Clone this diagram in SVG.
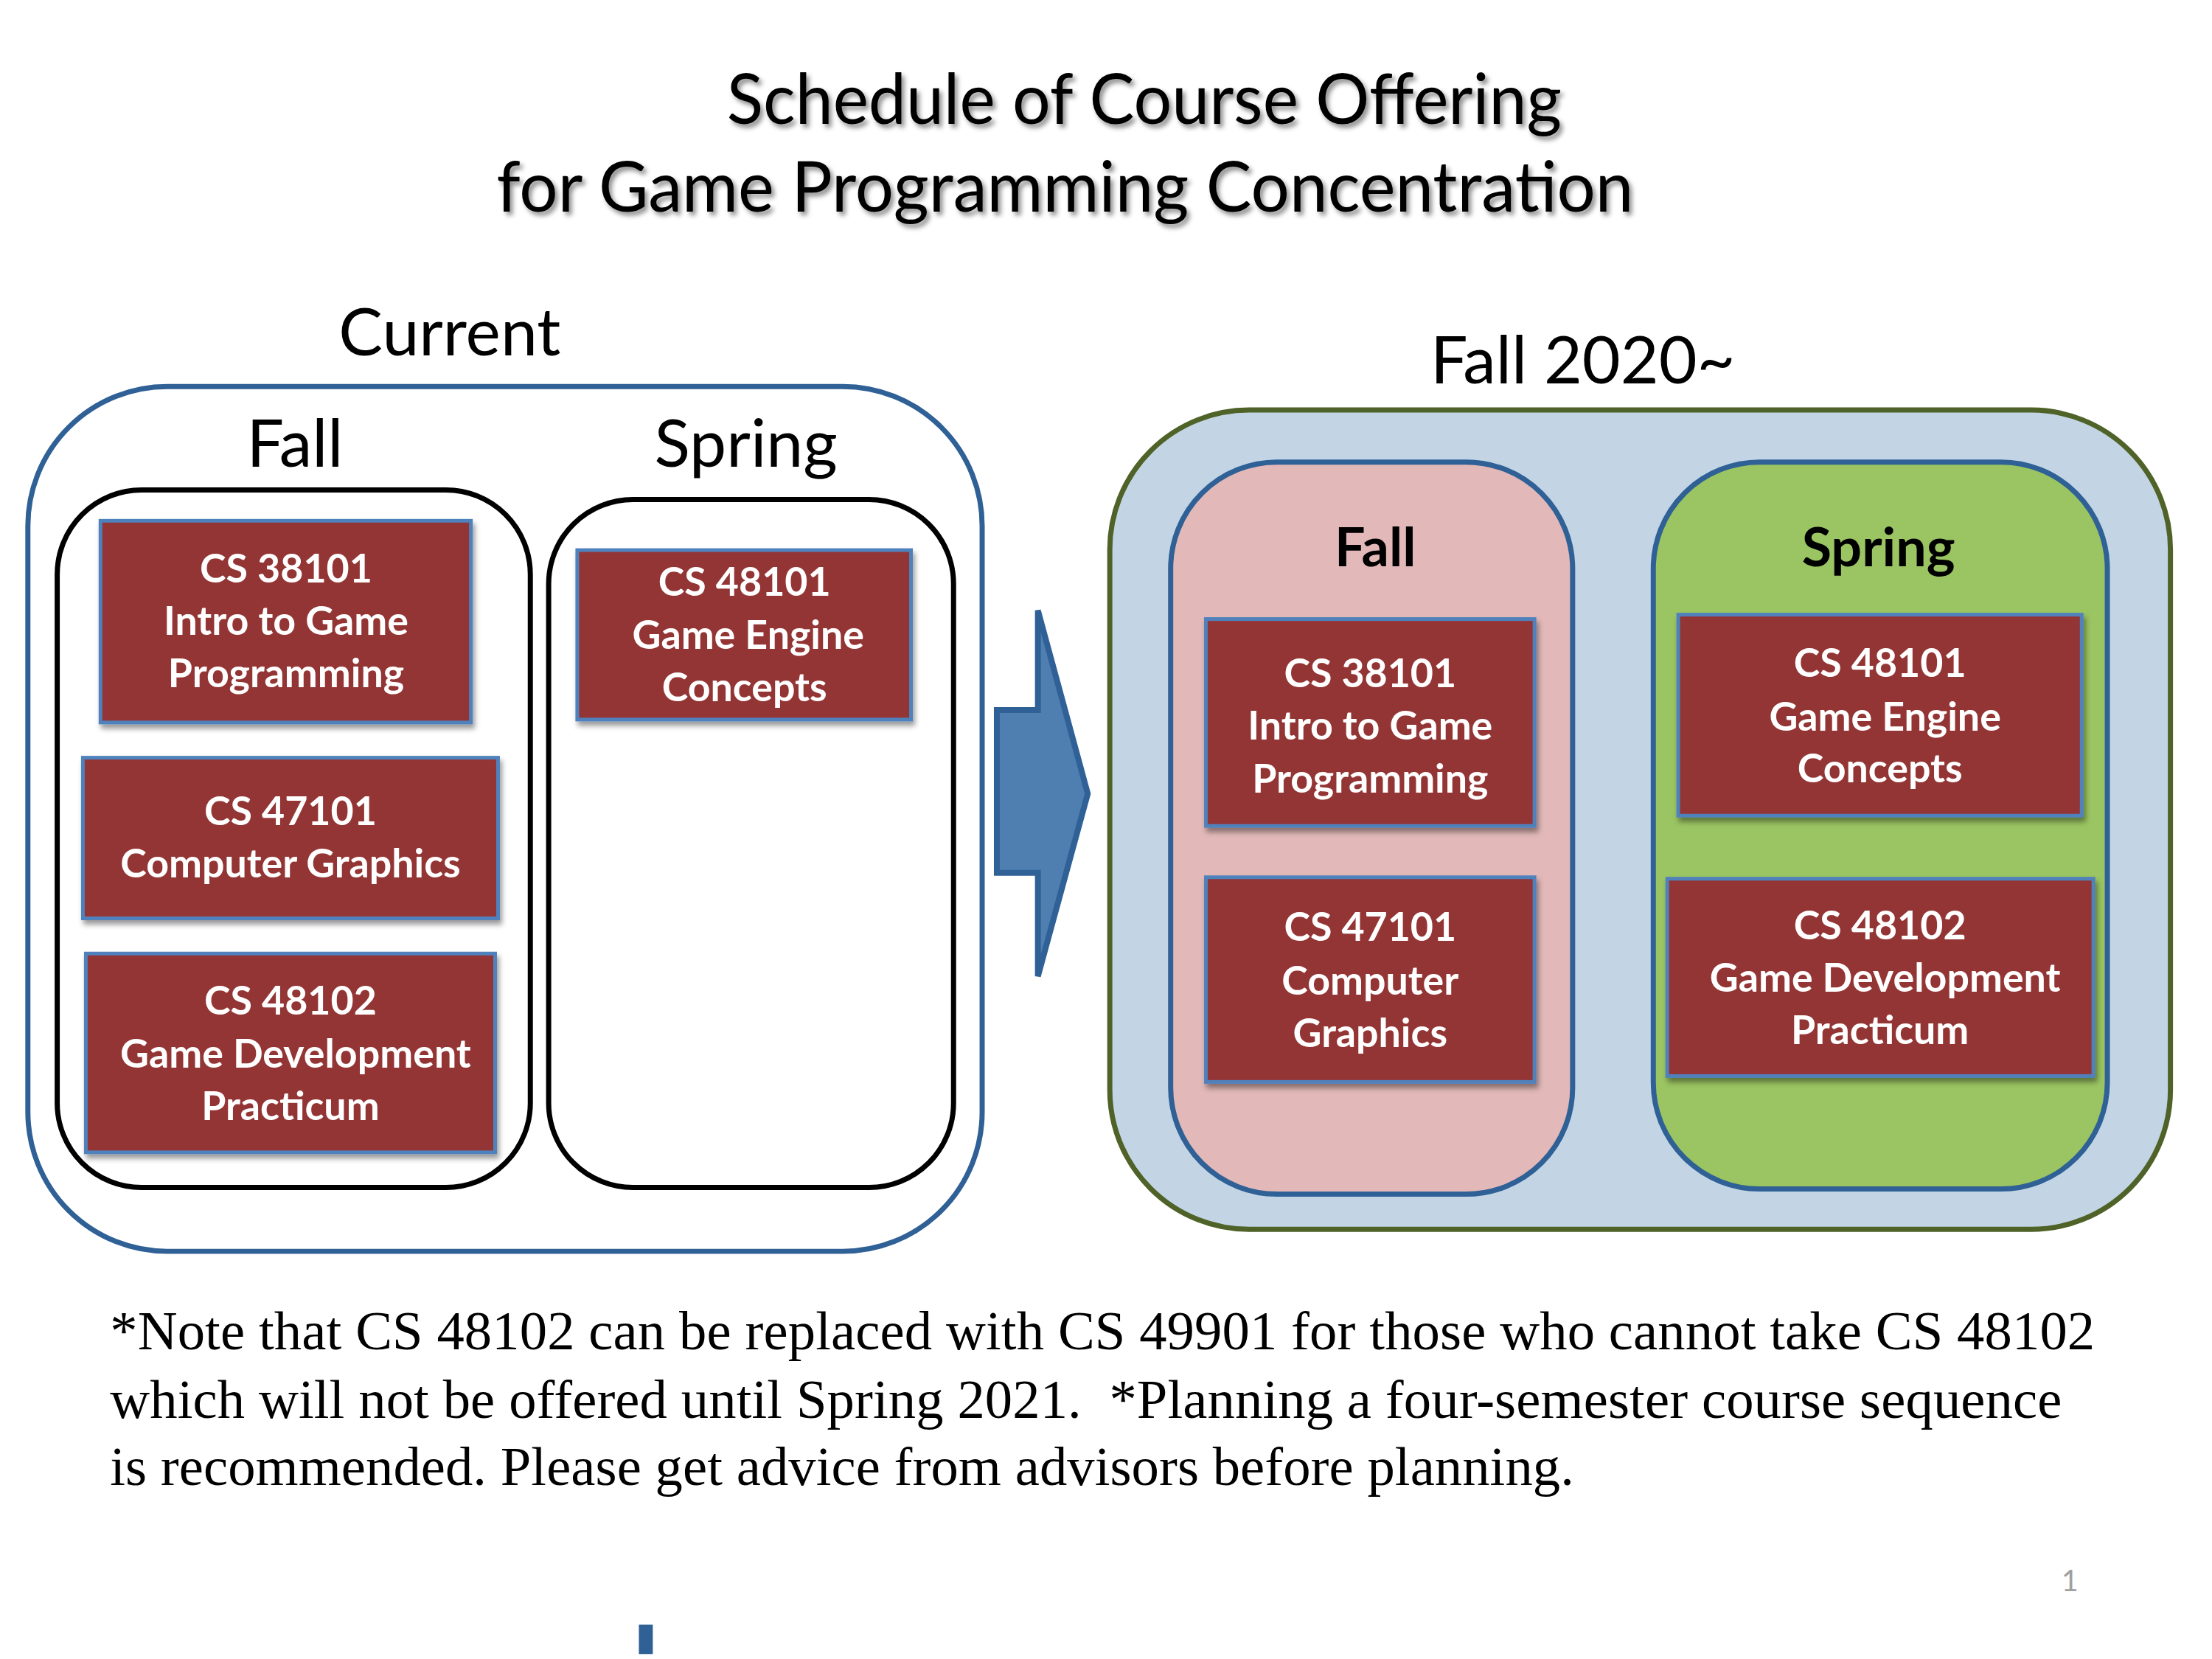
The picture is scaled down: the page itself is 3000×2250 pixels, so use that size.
<svg xmlns="http://www.w3.org/2000/svg" width="3000" height="2250" viewBox="0 0 3000 2250">
<defs>
<filter id="tshadow" x="-5%" y="-20%" width="110%" height="150%">
<feDropShadow dx="4" dy="5" stdDeviation="3" flood-color="#000" flood-opacity="0.45"/>
</filter>
<filter id="bshadow" x="-5%" y="-5%" width="112%" height="115%">
<feDropShadow dx="3" dy="6" stdDeviation="4" flood-color="#000" flood-opacity="0.4"/>
</filter>
</defs>
<style>
.cal{font-family:Lato,"Open Sans","Liberation Sans",sans-serif}
.title{font-size:96px;fill:#000}
.head{font-size:90px;fill:#000}
.headb{font-size:74px;font-weight:bold;fill:#000}
.course rect{fill:#943634;stroke:#4F81BD;stroke-width:5}
.course text{font-family:Lato,"Open Sans","Liberation Sans",sans-serif;font-size:54px;font-weight:bold;fill:#fff;text-anchor:middle}
.note{font-family:"Liberation Serif","Times New Roman",serif;font-size:75px;fill:#000}
</style>
<rect width="3000" height="2250" fill="#fff"/>
<g id="page" transform="scale(0.9948)">

<g id="title" class="cal" text-anchor="middle" filter="url(#tshadow)">
<text class="title" x="1560" y="169" textLength="1138" lengthAdjust="spacingAndGlyphs">Schedule of Course Offering</text>
<text class="title" x="1452" y="288" textLength="1550" lengthAdjust="spacingAndGlyphs">for Game Programming Concentration</text>
</g>

<g id="current">
<text class="cal head" x="613" y="485" text-anchor="middle">Current</text>
<rect x="38" y="527" width="1301" height="1179" rx="190" fill="#fff" stroke="#2F6096" stroke-width="7"/>
<text class="cal head" x="402" y="636" text-anchor="middle">Fall</text>
<text class="cal head" x="1017" y="636" text-anchor="middle">Spring</text>
</g>
<g id="current-fall">
<rect x="78" y="668" width="645" height="951" rx="115" fill="#fff" stroke="#000" stroke-width="7"/>
</g>
<g id="current-spring">
<rect x="748" y="681" width="552" height="938" rx="115" fill="#fff" stroke="#000" stroke-width="7"/>
</g>

<g id="c-38101" class="course" filter="url(#bshadow)">
<rect x="137" y="710" width="505" height="275"/>
<text x="390" y="794">CS 38101</text>
<text x="390" y="865">Intro to Game</text>
<text x="390" y="937">Programming</text>
</g>
<g id="c-47101" class="course" filter="url(#bshadow)">
<rect x="113" y="1033" width="566" height="219"/>
<text x="396" y="1125">CS 47101</text>
<text x="396" y="1196">Computer Graphics</text>
</g>
<g id="c-48102" class="course" filter="url(#bshadow)">
<rect x="117" y="1300" width="558" height="271"/>
<text x="396" y="1383">CS 48102</text>
<text x="403" y="1456">Game Development</text>
<text x="396" y="1527">Practicum</text>
</g>
<g id="c-48101" class="course" filter="url(#bshadow)">
<rect x="787" y="750" width="455" height="231"/>
<text x="1015" y="812">CS 48101</text>
<text x="1020" y="885">Game Engine</text>
<text x="1015" y="956">Concepts</text>
</g>

<g id="connectors">
<path d="M1359,968 L1415,968 L1415,832 L1483,1082 L1415,1331 L1415,1190 L1359,1190 Z" fill="#4F7FB0" stroke="#2F6096" stroke-width="8" stroke-linejoin="miter"/>
</g>

<g id="fall2020">
<text class="cal head" x="2158" y="523" text-anchor="middle">Fall 2020~</text>
<rect x="1513" y="559" width="1446" height="1117" rx="190" fill="#C3D5E4" stroke="#4F6228" stroke-width="7"/>
</g>
<g id="new-fall">
<rect x="1596" y="630" width="548" height="998" rx="145" fill="#E2B8B8" stroke="#2F6096" stroke-width="7"/>
<text class="cal headb" x="1875" y="772" text-anchor="middle">Fall</text>
</g>
<g id="new-spring">
<rect x="2254" y="630" width="619" height="991" rx="145" fill="#9BC462" stroke="#2F6096" stroke-width="7"/>
<text class="cal headb" x="2561" y="772" text-anchor="middle">Spring</text>
</g>

<g id="n-38101" class="course" filter="url(#bshadow)">
<rect x="1644" y="844" width="448" height="282"/>
<text x="1868" y="937">CS 38101</text>
<text x="1868" y="1008">Intro to Game</text>
<text x="1868" y="1081">Programming</text>
</g>
<g id="n-47101" class="course" filter="url(#bshadow)">
<rect x="1644" y="1196" width="448" height="279"/>
<text x="1868" y="1283">CS 47101</text>
<text x="1868" y="1356">Computer</text>
<text x="1868" y="1427">Graphics</text>
</g>
<g id="n-48101" class="course" filter="url(#bshadow)">
<rect x="2288" y="838" width="550" height="274"/>
<text x="2563" y="923">CS 48101</text>
<text x="2570" y="996">Game Engine</text>
<text x="2563" y="1067">Concepts</text>
</g>
<g id="n-48102" class="course" filter="url(#bshadow)">
<rect x="2273" y="1198" width="581" height="269"/>
<text x="2563" y="1281">CS 48102</text>
<text x="2570" y="1352">Game Development</text>
<text x="2563" y="1423">Practicum</text>
</g>

<g id="note">
<text class="note" x="150" y="1840" textLength="2706">*Note that CS 48102 can be replaced with CS 49901 for those who cannot take CS 48102</text>
<text class="note" x="150" y="1933" textLength="2661" xml:space="preserve">which will not be offered until Spring 2021.  *Planning a four-semester course sequence</text>
<text class="note" x="150" y="2025" textLength="1996">is recommended. Please get advice from advisors before planning.</text>
</g>

<text x="2822" y="2169" font-family="Lato,'Liberation Sans',sans-serif" font-size="40" fill="#A0A0A0" text-anchor="middle">1</text>
<rect x="871" y="2215" width="19" height="40" fill="#2F6096"/>
</g>
</svg>
